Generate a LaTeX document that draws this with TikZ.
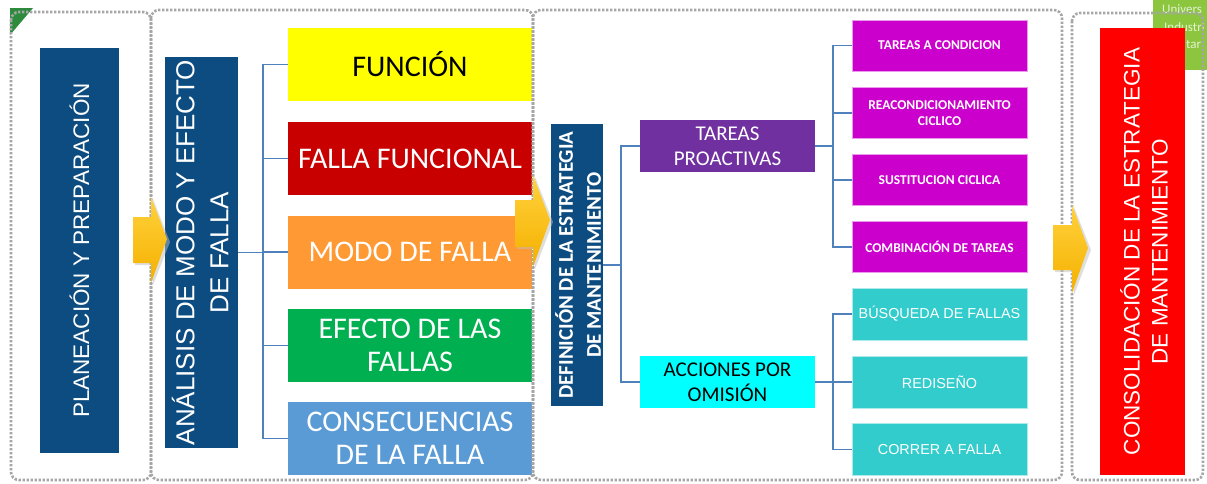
\documentclass[tikz,border=0pt]{standalone}
\usepackage{fontspec}
\newfontfamily\arial{Liberation Sans}
\newfontfamily\calibri{Carlito}
\usetikzlibrary{calc}
\definecolor{dblue}{HTML}{0D4C80}
\definecolor{fyellow}{HTML}{FFFF00}
\definecolor{fred}{HTML}{C80000}
\definecolor{forange}{HTML}{FF9933}
\definecolor{fgreen}{HTML}{00B050}
\definecolor{fblue}{HTML}{5B9BD5}
\definecolor{fpurple}{HTML}{7030A0}
\definecolor{fcyan}{HTML}{00FFFF}
\definecolor{fmag}{HTML}{CC00CC}
\definecolor{fteal}{HTML}{33CCCC}
\definecolor{fbright}{HTML}{FF0000}
\definecolor{lineblue}{HTML}{4F81BD}
\definecolor{framegray}{HTML}{A6A6A6}
\definecolor{badgegreen}{HTML}{8CC63F}
\definecolor{badgetext}{HTML}{E4F2D2}
\definecolor{cornergreen}{HTML}{2E8B3E}
\definecolor{arrtop}{HTML}{FFD23C}
\definecolor{arrbot}{HTML}{F5B000}
\begin{document}
\begin{tikzpicture}[x=1pt,y=-1pt,
  box/.style={inner sep=0pt, outer sep=0pt},
  conn/.style={draw=lineblue, line width=1.3pt},
  frame/.style={draw=framegray, line width=2.6pt, dash pattern=on 2.4pt off 1.6pt, rounded corners=8pt},
  arr/.style={top color=arrtop, bottom color=arrbot, draw=none},
  rtxt/.style={rotate=90, align=center, text=white},
  big/.style={font=\calibri\fontsize{30}{33}\selectfont, align=center},
  mid/.style={font=\calibri\fontsize{21}{25}\selectfont, align=center},
  mag/.style={box, fill=fmag, draw=fmag!40, line width=0.6pt, minimum width=175pt, minimum height=51pt, text=white, align=center, font=\calibri\bfseries\fontsize{13.5}{15.5}\selectfont},
  teal/.style={box, fill=fteal, draw=fteal!40, line width=0.6pt, minimum width=175pt, minimum height=52pt, text=white, align=center, font=\arial\fontsize{14.4}{17}\selectfont}]
\useasboundingbox (0,0) rectangle (1207,483);
\fill[white] (0,0) rectangle (1207,483);

% corner decorations
\fill[cornergreen] (10,8) -- (33,8) -- (10,35) -- cycle;
\fill[badgegreen] (1153,0) rectangle (1207,70);
\begin{scope}
\clip (1153,0) rectangle (1207,70);
\node[anchor=west, text=badgetext, font=\calibri\fontsize{13}{13}\selectfont, inner sep=0pt] (b1) at (1162,9) {Univers};
\node[anchor=west, text=badgetext, font=\calibri\fontsize{13}{13}\selectfont, inner sep=0pt] (b2) at (1164,27) {Industri};
\node[anchor=west, text=badgetext, font=\calibri\fontsize{13}{13}\selectfont, inner sep=0pt] (b3) at (1186,44) {tar};
\end{scope}

% column 1
\node[box, fill=dblue, minimum width=79pt, minimum height=405pt] (plan) at (79.5,250.5) {};
\node[rtxt, font=\arial\fontsize{22.5}{28}\selectfont] (planT) at (plan.center) {PLANEACIÓN Y PREPARACIÓN};

% column 2
\node[box, fill=dblue, minimum width=73pt, minimum height=391pt] (ana) at (201.5,252.5) {};
\node[rtxt, font=\arial\fontsize{26}{34}\selectfont] (anaT) at (200,252.5) {ANÁLISIS DE MODO Y EFECTO\\DE FALLA};

\node[box, fill=fyellow, minimum width=244pt, minimum height=73pt, big, text=black] (fun) at (410,64.5) {FUNCIÓN};
\node[box, fill=fred, minimum width=244pt, minimum height=73pt, big, text=white] (ff) at (410,158.5) {FALLA FUNCIONAL};
\node[box, fill=forange, minimum width=244pt, minimum height=73pt, big, text=white] (mf) at (410,252) {MODO DE FALLA};
\node[box, fill=fgreen, minimum width=244pt, minimum height=73pt, big, text=white] (ef) at (410,345.5) {EFECTO DE LAS\\FALLAS};
\node[box, fill=fblue, minimum width=244pt, minimum height=73pt, big, text=white] (co) at (410,438.5) {CONSECUENCIAS\\DE LA FALLA};

\coordinate (j1) at ($(ana.east)+(25,0)$);
\foreach \n in {fun,ff,mf,ef,co} \draw[conn] (ana.east) -- (j1) |- (\n.west);

% column 3
\node[box, fill=dblue, minimum width=52pt, minimum height=282pt] (def) at (577,265) {};
\node[rtxt, font=\calibri\bfseries\fontsize{21}{28}\selectfont] (defT) at (578,265) {DEFINICIÓN DE LA ESTRATEGIA\\DE MANTENIMIENTO};

\node[box, fill=fpurple, minimum width=175pt, minimum height=52pt, mid, text=white] (tp) at (727.5,146) {TAREAS\\PROACTIVAS};
\node[box, fill=fcyan, minimum width=175pt, minimum height=52pt, mid, text=black] (ao) at (727.5,382) {ACCIONES POR\\OMISIÓN};

\coordinate (j2) at ($(def.east)+(18,0)$);
\foreach \n in {tp,ao} \draw[conn] (def.east) -- (j2) |- (\n.west);

\node[mag] (m1) at (939.5,45.5) {TAREAS A CONDICION};
\node[mag] (m2) at (939.5,113) {REACONDICIONAMIENTO\\CICLICO};
\node[mag] (m3) at (939.5,180) {SUSTITUCION CICLICA};
\node[mag] (m4) at (939.5,247) {COMBINACIÓN DE TAREAS};

\node[teal] (t1) at (939.5,314) {BÚSQUEDA DE FALLAS};
\node[teal] (t2) at (939.5,382) {REDISEÑO};
\node[teal] (t3) at (939.5,449.5) {CORRER A FALLA};

\coordinate (j3) at ($(tp.east)+(18,0)$);
\foreach \n in {m1,m2,m3,m4} \draw[conn] (tp.east) -- (j3) |- (\n.west);
\coordinate (j4) at ($(ao.east)+(18,0)$);
\foreach \n in {t1,t2,t3} \draw[conn] (ao.east) -- (j4) |- (\n.west);

% column 4
\node[box, fill=fbright, minimum width=85pt, minimum height=447pt] (cons) at (1142.5,251.5) {};
\node[rtxt, font=\arial\fontsize{22.5}{28}\selectfont] (consT) at (1144,251.5) {CONSOLIDACIÓN DE LA ESTRATEGIA\\DE MANTENIMIENTO};

% dotted frames
\draw[frame] (11,12) rectangle (151,480);
\draw[frame] (151,10) rectangle (533,480);
\draw[frame] (533,10) rectangle (1062,480);
\draw[frame] (1072,13) rectangle (1203,480);

% arrows
\fill[black!25, opacity=0.5] (135,220) -- (153,220) -- (153,199) -- (170,242) -- (153,285) -- (153,265) -- (135,265) -- cycle;
\path[arr] (133,217) -- (151,217) -- (151,197) -- (167,239) -- (151,283) -- (151,263) -- (133,263) -- cycle;
\fill[black!25, opacity=0.5] (517,202) -- (535,202) -- (535,177) -- (553,222) -- (535,269) -- (535,249) -- (517,249) -- cycle;
\path[arr] (515,200) -- (533,200) -- (533,175) -- (550,220) -- (533,267) -- (533,247) -- (515,247) -- cycle;
\fill[black!25, opacity=0.5] (1055,227) -- (1074,227) -- (1074,207) -- (1091,250) -- (1074,295) -- (1074,272) -- (1055,272) -- cycle;
\path[arr] (1053,225) -- (1072,225) -- (1072,205) -- (1088,248) -- (1072,293) -- (1072,270) -- (1053,270) -- cycle;
\end{tikzpicture}
\end{document}
